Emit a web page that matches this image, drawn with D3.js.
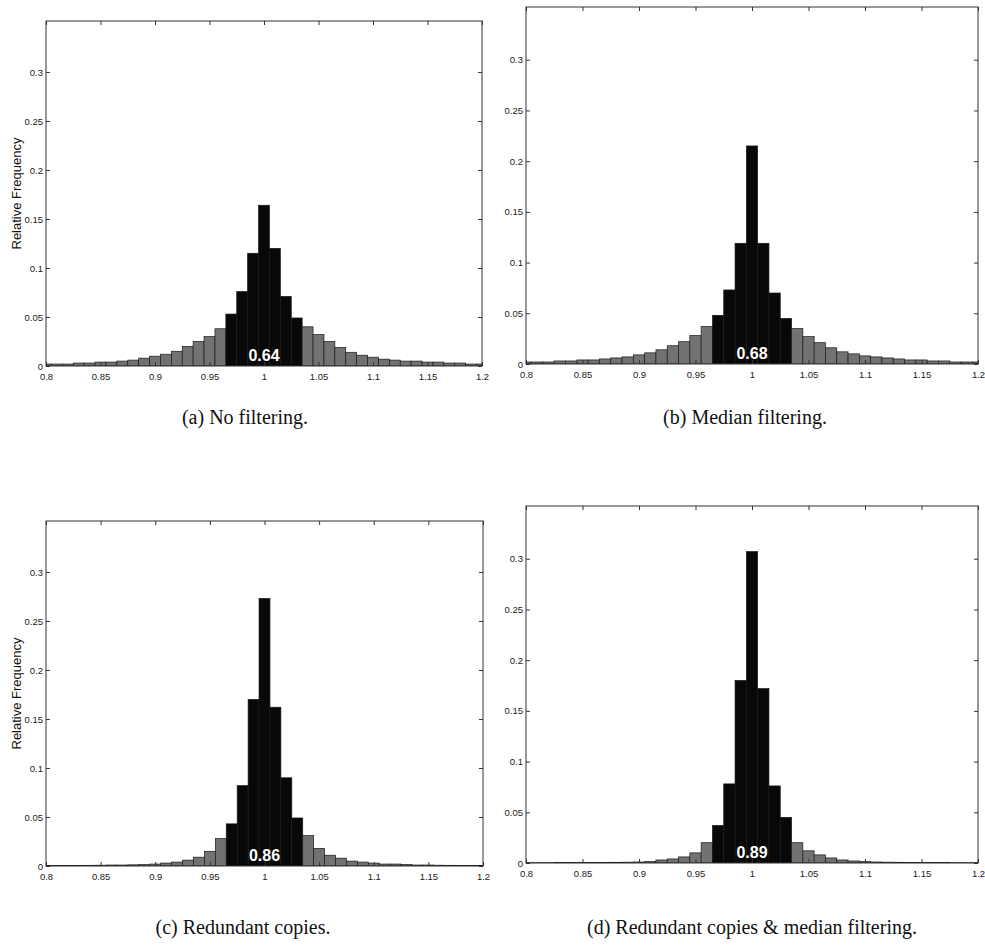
<!DOCTYPE html>
<html>
<head>
<meta charset="utf-8">
<script src="https://cdn.jsdelivr.net/npm/d3@7"></script>
<style>
  body { margin: 0; background: #fff; }
  svg { display: block; }
  .tick text { font-family: "Liberation Sans", Arial, sans-serif; font-size: 9.5px; fill: #1a1a1a; }
  .tick line { stroke: #333; }
  .caption { font-family: "Liberation Serif", "Times New Roman", serif; font-size: 20px; fill: #111; }
  .ylabel { font-family: "Liberation Sans", Arial, sans-serif; font-size: 13px; fill: #111; }
  .share { font-family: "Liberation Sans", Arial, sans-serif; font-size: 16px; font-weight: bold; fill: #fff; }
</style>
</head>
<body>
<svg width="985" height="947"></svg>
<script>
  // histogram bin centres (ratio)
  const binCenters = [0.80, 0.81, 0.82, 0.83, 0.84, 0.85, 0.86, 0.87, 0.88, 0.89,
    0.90, 0.91, 0.92, 0.93, 0.94, 0.95, 0.96, 0.97, 0.98, 0.99,
    1.00, 1.01, 1.02, 1.03, 1.04, 1.05, 1.06, 1.07, 1.08, 1.09,
    1.10, 1.11, 1.12, 1.13, 1.14, 1.15, 1.16, 1.17, 1.18, 1.19, 1.20];

  const freqNoFilter = [0.002, 0.002, 0.002, 0.003, 0.003, 0.004, 0.004, 0.005, 0.006, 0.008,
    0.010, 0.012, 0.015, 0.020, 0.025, 0.030, 0.038, 0.053, 0.076, 0.115,
    0.164, 0.120, 0.071, 0.049, 0.040, 0.032, 0.025, 0.019, 0.014, 0.011,
    0.009, 0.007, 0.006, 0.005, 0.005, 0.004, 0.004, 0.003, 0.003, 0.002, 0.002];

  const freqMedian = [0.002, 0.002, 0.002, 0.003, 0.003, 0.004, 0.004, 0.005, 0.006, 0.007,
    0.009, 0.011, 0.014, 0.018, 0.022, 0.028, 0.037, 0.048, 0.073, 0.119,
    0.215, 0.119, 0.070, 0.045, 0.035, 0.027, 0.021, 0.016, 0.012, 0.010,
    0.008, 0.007, 0.006, 0.005, 0.004, 0.004, 0.003, 0.003, 0.002, 0.002, 0.002];

  const freqRedundant = [0.0005, 0.0005, 0.0005, 0.0005, 0.0007, 0.0008, 0.001, 0.001, 0.0012, 0.0015,
    0.002, 0.003, 0.004, 0.006, 0.009, 0.015, 0.028, 0.043, 0.082, 0.170,
    0.273, 0.162, 0.090, 0.049, 0.031, 0.018, 0.011, 0.008, 0.005, 0.004,
    0.003, 0.002, 0.002, 0.0015, 0.001, 0.001, 0.0008, 0.0007, 0.0005, 0.0005, 0.0005];

  const freqRedundantMedian = [0.0003, 0.0003, 0.0003, 0.0004, 0.0004, 0.0005, 0.0005, 0.0006, 0.0007, 0.0008,
    0.001, 0.0015, 0.003, 0.004, 0.006, 0.010, 0.020, 0.037, 0.078, 0.180,
    0.307, 0.172, 0.076, 0.045, 0.020, 0.012, 0.008, 0.005, 0.003, 0.002,
    0.0015, 0.001, 0.0008, 0.0007, 0.0006, 0.0005, 0.0004, 0.0004, 0.0003, 0.0003, 0.0003];

  const xTicks = [0.8, 0.85, 0.9, 0.95, 1, 1.05, 1.1, 1.15, 1.2];
  const yTicks = [0, 0.05, 0.1, 0.15, 0.2, 0.25, 0.3];
  const shares = ['0.64', '0.68', '0.86', '0.89'];
  const captions = ['(a) No filtering.', '(b) Median filtering.',
    '(c) Redundant copies.', '(d) Redundant copies & median filtering.'];

  const svg = d3.select('svg');

  const panels = [
    { data: freqNoFilter, left: 46, right: 482, top: 21, bottom: 366, ylabel: true, capX: 245, capY: 424 },
    { data: freqMedian, left: 526, right: 978, top: 7, bottom: 364, ylabel: false, capX: 745, capY: 424 },
    { data: freqRedundant, left: 46, right: 483, top: 521, bottom: 866, ylabel: true, capX: 243, capY: 934 },
    { data: freqRedundantMedian, left: 526, right: 978, top: 506, bottom: 863, ylabel: false, capX: 752, capY: 934 }
  ];

  const fmt = d => String(+d.toFixed(2));

  panels.forEach((p, i) => {
    const w = p.right - p.left;
    const h = p.bottom - p.top;

    const xScale = d3.scaleLinear().domain([0.8, 1.2]).range([0, w]);
    const yScale = d3.scaleLinear().domain([0, 0.352]).range([h, 0]);

    const g = svg.append('g')
      .attr('transform', `translate(${p.left},${p.top})`);

    g.append('clipPath').attr('id', `clip${i}`)
      .append('rect').attr('width', w).attr('height', h);

    const bins = binCenters.map((c, j) => ({ c, v: p.data[j] }));

    g.append('g').attr('clip-path', `url(#clip${i})`)
      .selectAll('rect').data(bins)
      .enter().append('rect')
        .attr('x', d => xScale(d.c - 0.005))
        .attr('width', d => xScale(d.c + 0.005) - xScale(d.c - 0.005))
        .attr('y', d => yScale(d.v))
        .attr('height', d => yScale(0) - yScale(d.v))
        .attr('fill', d => (d.c > 0.965 && d.c < 1.035) ? '#080808' : '#727272')
        .attr('stroke', '#1a1a1a')
        .attr('stroke-width', 0.7);

    const xAxis = d3.axisBottom(xScale).tickValues(xTicks).tickFormat(fmt)
      .tickSize(-4).tickPadding(7);
    const yAxis = d3.axisLeft(yScale).tickValues(yTicks).tickFormat(fmt)
      .tickSize(-4).tickPadding(3);

    g.append('g').attr('transform', `translate(0,${h})`).call(xAxis)
      .select('.domain').remove();
    g.append('g').call(yAxis).select('.domain').remove();
    g.append('g').call(d3.axisTop(xScale).tickValues(xTicks).tickFormat('').tickSize(-4))
      .select('.domain').remove();
    g.append('g').attr('transform', `translate(${w},0)`)
      .call(d3.axisRight(yScale).tickValues(yTicks).tickFormat('').tickSize(-4))
      .select('.domain').remove();

    g.append('rect')
      .attr('width', w).attr('height', h)
      .attr('fill', 'none').attr('stroke', '#333').attr('stroke-width', 1);

    g.append('text')
      .attr('class', 'share')
      .attr('x', xScale(1))
      .attr('y', h - 5)
      .attr('text-anchor', 'middle')
      .text(shares[i]);

    if (p.ylabel) {
      svg.append('text')
        .attr('class', 'ylabel')
        .attr('transform', `translate(${p.left - 25},${p.top + h / 2}) rotate(-90)`)
        .attr('text-anchor', 'middle')
        .text('Relative Frequency');
    }

    svg.append('text')
      .attr('class', 'caption')
      .attr('x', p.capX)
      .attr('y', p.capY)
      .attr('text-anchor', 'middle')
      .text(captions[i]);
  });
</script>
</body>
</html>
